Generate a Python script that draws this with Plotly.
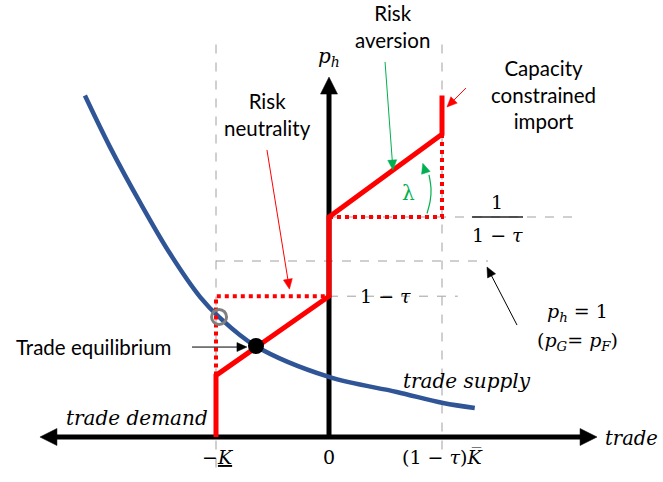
import math
import plotly.graph_objects as go

# ---------------- data (conceptual units) ----------------
tau = 0.2
K_neg = -1.0                 # -K
K_pos = 1.0                  # (1 - tau) * Kbar
p_low = 1 - tau              # 1 - tau
p_one = 1.0                  # p_h = 1
p_high = 1 / (1 - tau)       # 1 / (1 - tau)

# risk-averse supply schedule (solid red)
supply_x = [-1.0, -1.0, 0.0, 0.0, 1.0, 1.0]
supply_y = [0.0, 0.35, 0.8, 1.25, 1.72, 1.94]
# risk-neutral schedule (dotted red)
neutral_lo_x = [-1.0, -1.0, 0.0]
neutral_lo_y = [0.35, 0.8, 0.8]
neutral_hi_x = [0.0, 1.0, 1.0]
neutral_hi_y = [1.25, 1.25, 1.72]
# trade demand curve (blue)
demand_x = [-2.16, -1.94, -1.67, -1.41, -1.14, -0.97, -0.65, 0.0, 0.60, 1.01, 1.29]
demand_y = [1.94, 1.65, 1.33, 1.045, 0.795, 0.68, 0.517, 0.341, 0.256, 0.193, 0.165]
# equilibrium points
equil_x, equil_y = [-0.646], [0.517]
neutral_eq_x, neutral_eq_y = [-0.973], [0.682]
# axis extents (arrow tips)
x_axis_left, x_axis_right, y_axis_top = -2.558, 2.372, 2.045
# lambda arc
lam_x = [0.867, 0.895, 0.903, 0.885, 0.83]
lam_y = [1.27, 1.34, 1.41, 1.49, 1.555]

# window pixel (px, py) <-> data: x = (px-329)/113, y = (437-py)/176
PX, PY = 113.0, 176.0
X_RANGE = [(0 - 329) / PX, (663 - 329) / PX]
Y_RANGE = [(437 - 482) / PY, (437 - 0) / PY]

RED = "#FF0000"
BLUE = "#2F5597"
GREEN = "#00B050"
GRAY = "#A0A0A0"
SANS = "Lato, 'Open Sans', sans-serif"
SERIF = "'DejaVu Serif', 'Liberation Serif', serif"

fig = go.Figure()


def line(xs, ys, color, width, dash="solid", shape="linear"):
    fig.add_trace(go.Scatter(x=xs, y=ys, mode="lines",
                             line=dict(color=color, width=width, dash=dash, shape=shape),
                             hoverinfo="skip", showlegend=False))


def head(x0, y0, x1, y1, color, hl, hw):
    """filled triangle with tip at (x1, y1), pointing along (x0, y0) -> (x1, y1)"""
    dxp, dyp = (x1 - x0) * PX, (y1 - y0) * PY
    L = math.hypot(dxp, dyp)
    ux, uy = dxp / L, dyp / L
    bx, by = x1 - ux * hl / PX, y1 - uy * hl / PY
    lx, ly = bx - uy * hw / 2 / PX, by + ux * hw / 2 / PY
    rx, ry = bx + uy * hw / 2 / PX, by - ux * hw / 2 / PY
    fig.add_trace(go.Scatter(x=[x1, lx, rx, x1], y=[y1, ly, ry, y1], mode="lines",
                             fill="toself", fillcolor=color, line=dict(color=color, width=0.5),
                             hoverinfo="skip", showlegend=False))


def arrow(x0, y0, x1, y1, color, lw=1.0, hl=10, hw=9):
    dxp, dyp = (x1 - x0) * PX, (y1 - y0) * PY
    L = math.hypot(dxp, dyp)
    bx, by = x1 - dxp / L * (hl - 1) / PX, y1 - dyp / L * (hl - 1) / PY
    line([x0, bx], [y0, by], color, lw)
    head(x0, y0, x1, y1, color, hl, hw)


# gray dashed guides
line([K_neg, K_neg], [2.23, -0.19], GRAY, 1, "dash")
line([K_pos, K_pos], [2.23, -0.10], GRAY, 1, "dash")
line([0, 2.195], [p_high, p_high], GRAY, 1, "dash")
line([K_neg, 1.407], [p_one, p_one], GRAY, 1, "dash")
line([0, 1.14], [p_low, p_low], GRAY, 1, "dash")

# axes
arrow(0, 0, x_axis_right, 0, "black", lw=5, hl=17, hw=17)
arrow(0, 0, x_axis_left, 0, "black", lw=5, hl=17, hw=17)
arrow(0, 0, 0, y_axis_top, "black", lw=5, hl=17, hw=17)

# demand curve
line(demand_x, demand_y, BLUE, 4.5, shape="spline")

# dotted risk-neutral schedule
line(neutral_lo_x, neutral_lo_y, RED, 4, "dot")
line(neutral_hi_x, neutral_hi_y, RED, 4, "dot")

# solid risk-averse schedule
line(supply_x, supply_y, RED, 5)

# equilibrium markers
fig.add_trace(go.Scatter(x=neutral_eq_x, y=neutral_eq_y, mode="markers",
                         marker=dict(size=15, color="rgba(0,0,0,0)", line=dict(color="#808080", width=3)),
                         hoverinfo="skip", showlegend=False))
fig.add_trace(go.Scatter(x=equil_x, y=equil_y, mode="markers",
                         marker=dict(size=16, color="black"),
                         hoverinfo="skip", showlegend=False))

# lambda arc
line(lam_x[:-1], lam_y[:-1], GREEN, 1.2, shape="spline")
head(lam_x[-3], lam_y[-3], lam_x[-1], lam_y[-1], GREEN, 10, 9)

# fraction bar for 1/(1-tau)
line([1.265, 1.717], [p_high, p_high], "#222222", 1.5)

# pointer arrows
arrow(0.496, 2.131, 0.566, 1.517, GREEN)
arrow(-0.549, 1.631, -0.35, 0.84, RED)
arrow(1.212, 1.983, 1.044, 1.875, RED)
arrow(-1.212, 0.511, -0.726, 0.511, "black")
arrow(1.664, 0.636, 1.398, 0.966, "black")

# ---------------- texts ----------------
def txt(x, y, s, font=SANS, size=20.5, color="black", **kw):
    fig.add_annotation(x=x, y=y, text=s, showarrow=False,
                       font=dict(family=font, size=size, color=color), **kw)

txt(0.566, 2.33, "Risk<br>aversion")
txt(-0.54, 1.83, "Risk<br>neutrality")
txt(1.894, 1.945, "Capacity<br>constrained<br>import")
txt(-2.08, 0.511, "Trade equilibrium")
txt(0.0, 2.16, "<i>p</i><sub><i>h</i></sub>", font=SERIF, size=20)
txt(0.70, 1.386, "λ", font=SERIF, size=20, color=GREEN)
txt(1.487, 1.335, "1", font=SERIF, size=19)
txt(1.49, 1.148, "1 − <i>τ</i>", font=SERIF, size=19)
txt(0.50, 0.80, "1 − <i>τ</i>", font=SERIF, size=19)
txt(2.195, 0.705, "<i>p</i><sub><i>h</i></sub> = 1", font=SERIF, size=19)
txt(2.20, 0.54, "(<i>p</i><sub><i>G</i></sub>= <i>p</i><sub><i>F</i></sub>)", font=SERIF, size=19)
txt(1.22, 0.318, "<i>trade supply</i>", font=SERIF, size=20)
txt(-1.70, 0.11, "<i>trade demand</i>", font=SERIF, size=20)
txt(2.425, -0.01, "<i>trade</i>", font=SERIF, size=19.5, xanchor="left")
txt(-0.98, -0.114, "−<i><span style='text-decoration:underline'>K</span></i>", font=SERIF, size=19)
txt(0.0, -0.114, "0", font=SERIF, size=19)
txt(1.0, -0.114, "(1 − <i>τ</i>)<i>K̅</i>", font=SERIF, size=19)

fig.update_layout(
    width=663, height=482,
    margin=dict(l=0, r=0, t=0, b=0),
    plot_bgcolor="white", paper_bgcolor="white",
    xaxis=dict(range=X_RANGE, visible=False, fixedrange=True),
    yaxis=dict(range=Y_RANGE, visible=False, fixedrange=True),
    showlegend=False,
)

fig.write_html("out.html", config={"displayModeBar": False},
               post_script="document.body.style.margin='0px';")
